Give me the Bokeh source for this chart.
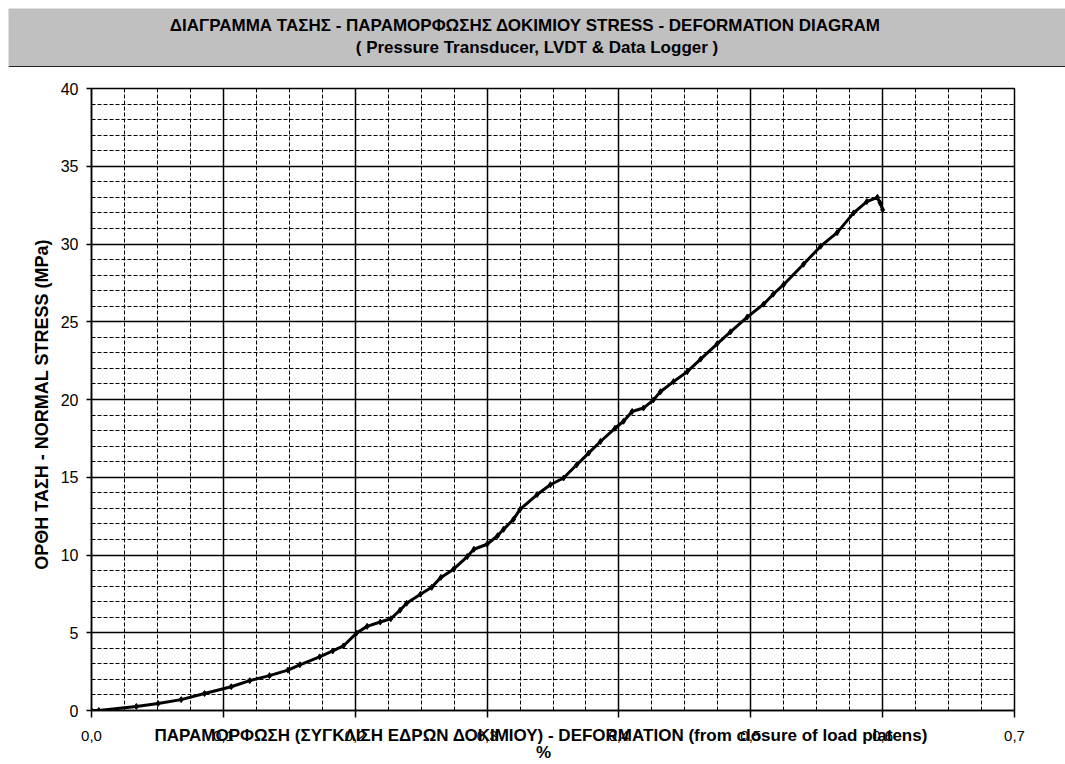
from bokeh.plotting import figure
from bokeh.layouts import column
from bokeh.models import (Range1d, FixedTicker, CustomJSTickFormatter, Label, Span)
from bokeh.embed import file_html
from bokeh.resources import INLINE
import numpy as np

# ---------------- data ----------------
strain = [0.000, 0.0055, 0.034, 0.0505, 0.068, 0.0857, 0.106, 0.120, 0.135, 0.149,
          0.158, 0.173, 0.183, 0.191, 0.201, 0.209, 0.219, 0.227, 0.234, 0.239,
          0.2495, 0.258, 0.265, 0.2746, 0.285, 0.290, 0.300, 0.308, 0.3125, 0.320,
          0.325, 0.338, 0.348, 0.358, 0.368, 0.377, 0.386, 0.397, 0.4035, 0.410,
          0.4186, 0.426, 0.4315, 0.4414, 0.4518, 0.462, 0.4745, 0.4846, 0.4973, 0.5097,
          0.517, 0.525, 0.540, 0.553, 0.5655, 0.578, 0.588, 0.596, 0.598, 0.600]
stress = [0.00, 0.00, 0.26, 0.45, 0.70, 1.09, 1.53, 1.92, 2.24, 2.60,
          2.94, 3.45, 3.83, 4.15, 4.98, 5.41, 5.69, 5.90, 6.45, 6.90,
          7.48, 7.92, 8.56, 9.09, 9.90, 10.37, 10.69, 11.24, 11.65, 12.29,
          12.93, 13.89, 14.52, 14.95, 15.80, 16.55, 17.30, 18.15, 18.60, 19.23,
          19.45, 19.96, 20.50, 21.15, 21.79, 22.60, 23.58, 24.35, 25.30, 26.13,
          26.77, 27.40, 28.70, 29.86, 30.73, 32.00, 32.73, 33.00, 32.65, 32.20]

x_ticks = [0.0, 0.1, 0.2, 0.3, 0.4, 0.5, 0.6, 0.7]
y_ticks = [0, 5, 10, 15, 20, 25, 30, 35, 40]

title_line1 = "ΔΙΑΓΡΑΜΜΑ ΤΑΣΗΣ - ΠΑΡΑΜΟΡΦΩΣΗΣ  ΔΟΚΙΜΙΟΥ     STRESS - DEFORMATION DIAGRAM"
title_line2 = "( Pressure Transducer, LVDT & Data Logger )"
x_title = "ΠΑΡΑΜΟΡΦΩΣΗ (ΣΥΓΚΛΙΣΗ ΕΔΡΩΝ ΔΟΚΙΜΙΟΥ)  - DEFORMATION (from closure of load platens)"
x_unit = "%"
y_title = "ΟΡΘΗ ΤΑΣΗ  -  NORMAL STRESS (MPa)"

W = 1057
FONT = "Liberation Sans"
PAD = "\u00a0" * 4   # trailing pad: the reference centres the x title slightly left of the frame centre

# ---------------- title band ----------------
t = figure(width=W, height=59, x_range=Range1d(0, 1), y_range=Range1d(0, 1),
           toolbar_location=None, output_backend="svg", min_border=0,
           background_fill_color="#C0C0C0", border_fill_color="#C0C0C0",
           outline_line_color=None)
t.frame_align = False
t.axis.visible = False
t.grid.visible = False
t.add_layout(Label(x=0.5, y=0.71, text=title_line1, text_align="center", text_baseline="middle",
                   text_font=FONT, text_font_style="bold", text_font_size="17px", text_color="#000000"))
t.add_layout(Label(x=0.5, y=0.34, text=title_line2, text_align="center", text_baseline="middle",
                   text_font=FONT, text_font_style="bold", text_font_size="17px", text_color="#000000"))
t.add_layout(Span(location=0.0, dimension="width", line_color="#222222", line_width=3))

# ---------------- main chart ----------------
p = figure(width=W, height=697, x_range=Range1d(0, 0.7), y_range=Range1d(0, 40),
           toolbar_location=None, output_backend="svg",
           min_border_left=83, min_border_right=51, min_border_top=21, min_border_bottom=50,
           background_fill_color="#FFFFFF", border_fill_color="#FFFFFF",
           outline_line_color="#000000", outline_line_width=1.5)
p.frame_align = False

p.xaxis.ticker = FixedTicker(ticks=x_ticks, minor_ticks=list(np.round(np.arange(0, 0.7001, 0.025), 4)))
p.yaxis.ticker = FixedTicker(ticks=y_ticks, minor_ticks=list(range(0, 41)))
p.xaxis.formatter = CustomJSTickFormatter(code="return tick.toFixed(1).replace('.', ',');")

for ax in (p.xaxis, p.yaxis):
    ax.axis_line_color = "#000000"
    ax.axis_line_width = 1.5
    ax.major_tick_line_color = "#000000"
    ax.major_tick_line_width = 1.5
    ax.major_tick_in = 0
    ax.minor_tick_in = 0
    ax.minor_tick_out = 0
    ax.major_label_text_font = FONT
    ax.major_label_text_color = "#000000"

p.xaxis.major_label_text_font_size = "15px"
p.yaxis.major_label_text_font_size = "16px"
p.xaxis.major_tick_out = 7
p.xaxis.major_label_standoff = 13
p.yaxis.major_tick_out = 5
p.yaxis.major_label_standoff = 8

p.yaxis.axis_label = y_title
p.yaxis.axis_label_text_font = FONT
p.yaxis.axis_label_text_font_style = "bold"
p.yaxis.axis_label_text_font_size = "18px"
p.yaxis.axis_label_text_color = "#000000"
p.yaxis.axis_label_standoff = 6

# x-axis title sits on the tick-label row, as in the reference
p.xaxis.axis_label = x_title + PAD + "\n" + x_unit + PAD
p.xaxis.axis_label_text_font = FONT
p.xaxis.axis_label_text_font_style = "bold"
p.xaxis.axis_label_text_font_size = "17px"
p.xaxis.axis_label_text_color = "#000000"
p.xaxis.axis_label_text_line_height = 0.9
p.xaxis.axis_label_standoff = -18

for g in (p.xgrid, p.ygrid):
    g.grid_line_color = "#000000"
    g.grid_line_width = 1.5
    g.minor_grid_line_color = "#000000"
    g.minor_grid_line_width = 1
    g.minor_grid_line_dash = "4 2"

p.line(strain, stress, line_color="#000000", line_width=3)
p.scatter(strain, stress, marker="diamond", size=6, fill_color="#000000", line_color="#000000")

layout = column(t, p, spacing=0, margin=(8, 0, 0, 8))
open("out.html", "w").write(file_html(layout, INLINE))
